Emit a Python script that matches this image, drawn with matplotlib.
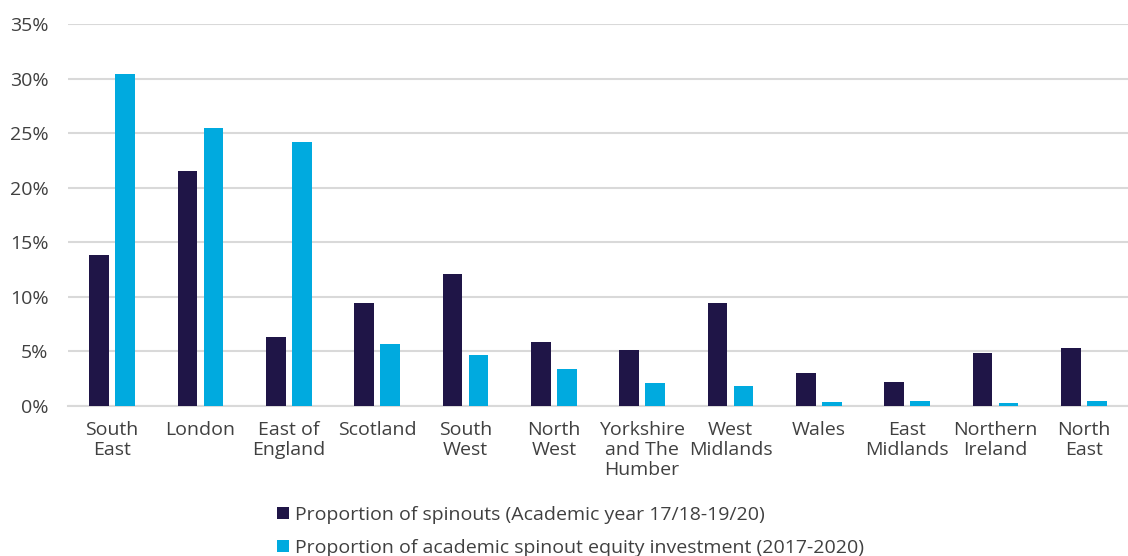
import numpy as np
import matplotlib.pyplot as plt
from matplotlib.ticker import PercentFormatter

plt.rcParams['font.family'] = ['Open Sans', 'DejaVu Sans']

# Regions and the two shares (in %)
regions = ["South\nEast", "London", "East of\nEngland", "Scotland", "South\nWest",
           "North\nWest", "Yorkshire\nand The\nHumber", "West\nMidlands", "Wales",
           "East\nMidlands", "Northern\nIreland", "North\nEast"]
spinouts = [13.8, 21.5, 6.3, 9.4, 12.1, 5.9, 5.1, 9.4, 3.0, 2.2, 4.9, 5.3]
investment = [30.4, 25.5, 24.15, 5.7, 4.65, 3.35, 2.1, 1.85, 0.35, 0.45, 0.25, 0.45]

dark = "#1f1547"
light = "#00aadf"
grid_col = "#d9d9d9"
text_col = "#404040"
fs = 14

fig = plt.figure(figsize=(11.28, 5.56), dpi=100)
ax = fig.add_axes([68 / 1128, 150 / 556, 1 - 68 / 1128, 382 / 556])

x = np.arange(len(regions))
w = 0.226
ax.bar(x - 0.147, spinouts, w, color=dark, zorder=3,
       label="Proportion of spinouts (Academic year 17/18-19/20)")
ax.bar(x + 0.147, investment, w, color=light, zorder=3,
       label="Proportion of academic spinout equity investment (2017-2020)")

ax.set_xlim(-0.5, len(regions) - 0.5)
ax.set_ylim(0, 35)
ax.set_yticks(np.arange(0, 36, 5))
ax.yaxis.set_major_formatter(PercentFormatter(decimals=0))
ax.set_xticks(x)
ax.set_xticklabels(regions, linespacing=1.15)

ax.grid(axis="y", color=grid_col, linewidth=1.5, zorder=0)
for s in ["top", "right", "left"]:
    ax.spines[s].set_visible(False)
ax.spines["bottom"].set_color(grid_col)
ax.spines["bottom"].set_linewidth(1.5)
ax.tick_params(axis="both", length=0, labelsize=fs, colors=text_col)
ax.tick_params(axis="y", pad=14)
ax.tick_params(axis="x", pad=11)

fig.legend(loc="upper left", bbox_to_anchor=(271 / 1128, 1 - 500 / 556),
           frameon=False, fontsize=fs, handlelength=0.6, handleheight=0.6,
           handletextpad=0.35, labelspacing=0.78, labelcolor=text_col,
           borderaxespad=0, borderpad=0.3)

fig.savefig("out.png", dpi=100)
